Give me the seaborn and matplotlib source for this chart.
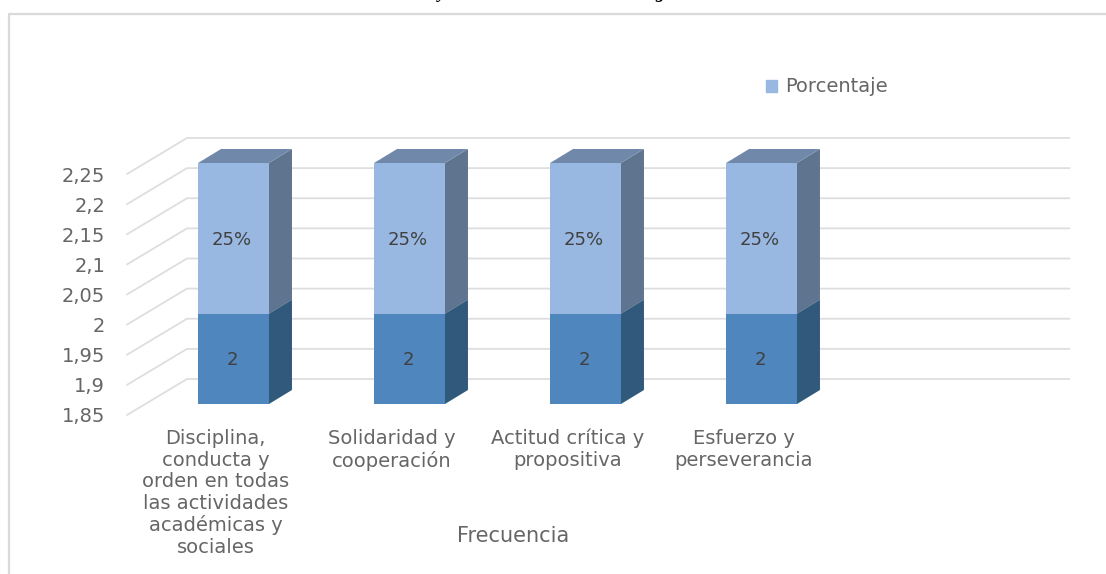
import matplotlib
matplotlib.use('Agg')
import matplotlib.pyplot as plt
import seaborn as sns
from matplotlib.lines import Line2D
from matplotlib.patches import Polygon, Patch
from matplotlib.transforms import Affine2D, IdentityTransform

# data
categories = ['Disciplina,\nconducta y\norden en todas\nlas actividades\nacadémicas y\nsociales',
              'Solidaridad y\ncooperación',
              'Actitud crítica y\npropositiva',
              'Esfuerzo y\nperseverancia']
frecuencia = [2, 2, 2, 2]
porcentaje = [0.25, 0.25, 0.25, 0.25]
y_ticks = [1.85, 1.9, 1.95, 2, 2.05, 2.1, 2.15, 2.2, 2.25]
y_labels = ['1,85', '1,9', '1,95', '2', '2,05', '2,1', '2,15', '2,2', '2,25']

# colours
light = '#98b7e1'
dark = '#4f86bd'
light_side = '#5f748e'
dark_side = '#30597c'
top_face = '#7089ab'
grid_col = '#dedede'
text_col = '#666666'
label_col = '#404040'

W, H = 1106, 574
sns.set_theme(style='white')
plt.rcParams['font.family'] = ['DejaVu Sans']

fig = plt.figure(figsize=(W / 100, H / 100), dpi=100)
ax = fig.add_axes([145.5 / W, (H - 404) / H, 924 / W, 241 / H])

totals = [f + p for f, p in zip(frecuencia, porcentaje)]
sns.barplot(x=categories, y=totals, color=light, saturation=1, width=0.403, ax=ax, zorder=3, linewidth=0)
n_top = len(ax.patches)
sns.barplot(x=categories, y=frecuencia, color=dark, saturation=1, width=0.403, ax=ax, zorder=3, linewidth=0)
ax.set_xlim(-0.5, 4.75)
ax.set_ylim(y_ticks[0], y_ticks[-1])
sns.despine(ax=ax, left=True, bottom=True)


def px(x, y, dx=0, dy=0):
    a, b = ax.transData.transform((x, y))
    return a + dx, b + dy


# 3d sides of the bars
depth_x, depth_y = 23, 14
for i, bar in enumerate(ax.patches):
    x1 = bar.get_x() + bar.get_width()
    x0 = bar.get_x()
    y1 = bar.get_height()
    y0 = y_ticks[0] if i >= n_top else frecuencia[i]
    side = [px(x1, y0), px(x1, y1), px(x1, y1, depth_x, depth_y), px(x1, y0, depth_x, depth_y)]
    ax.add_patch(Polygon(side, closed=True, transform=IdentityTransform(), clip_on=False, lw=0,
                         fc=light_side if i < n_top else dark_side, zorder=2.5))
    if i < n_top:
        top = [px(x0, y1), px(x1, y1), px(x1, y1, depth_x, depth_y), px(x0, y1, depth_x, depth_y)]
        ax.add_patch(Polygon(top, closed=True, transform=IdentityTransform(), clip_on=False, lw=0,
                             fc=top_face, zorder=2.5))

# back wall and floor lines
for t in y_ticks:
    p0 = px(-0.5, t, -18.5, -11)
    p1 = px(-0.5, t, 41.5, 25)
    p2 = px(4.75, t, 0, 25)
    ax.add_line(Line2D([p0[0], p1[0], p2[0]], [p0[1], p1[1], p2[1]], color=grid_col, lw=1.3,
                       transform=IdentityTransform(), clip_on=False, zorder=1))

# value labels
for i in range(len(categories)):
    ax.text(i - 0.008, (y_ticks[0] + frecuencia[i]) / 2 - 0.002, str(frecuencia[i]), ha='center', va='center',
            fontsize=13, color=label_col, zorder=5)
    ax.text(i - 0.008, frecuencia[i] + porcentaje[i] / 2 - 0.002, f'{porcentaje[i]:.0%}', ha='center', va='center',
            fontsize=13, color=label_col, zorder=5)

# tick labels sit on the front edge of the floor
ax.set_yticks(y_ticks)
ax.set_yticklabels(y_labels, fontsize=14, color=text_col)
ax.tick_params(axis='y', length=0, pad=29)
for lab in ax.get_yticklabels():
    lab.set_transform(lab.get_transform() + Affine2D().translate(0, -11))
ax.set_xticks(range(len(categories)))
ax.set_xticklabels(categories, fontsize=14, color=text_col, linespacing=1.17, va='top')
ax.tick_params(axis='x', length=0, pad=18)
for lab in ax.get_xticklabels():
    lab.set_transform(lab.get_transform() + Affine2D().translate(-18, 0))

ax.set_xlabel('Frecuencia', fontsize=15, color=text_col)
ax.xaxis.set_label_coords((513 - 145.5) / 924, (404 - 536) / 241)
ax.xaxis.label.set_va('center')

fig.legend(handles=[Patch(color=light, label='Porcentaje')], loc='center left', frameon=False,
           bbox_to_anchor=(765.5 / W, (H - 87) / H), fontsize=14, labelcolor=text_col,
           handlelength=0.58, handleheight=0.58, handletextpad=0.45, borderpad=0, borderaxespad=0)

# frame of the pasted chart, cut off at the right and bottom
fig.add_artist(Line2D([8.5 / W, 8.5 / W, 1], [0, (H - 14) / H, (H - 14) / H], color='#d9d9d9', lw=1.6))

# bottoms of the caption cropped away above the chart
fig.text(442 / W, (H + 2.5) / H, 'y', fontsize=13, style='italic', weight='bold', family='Liberation Serif',
         color='black', ha='center', va='baseline')
fig.text(660 / W, (H + 2.5) / H, 'g', fontsize=13, style='italic', weight='bold', family='Liberation Serif',
         color='black', ha='center', va='baseline')

fig.savefig('out.png', dpi=100)
